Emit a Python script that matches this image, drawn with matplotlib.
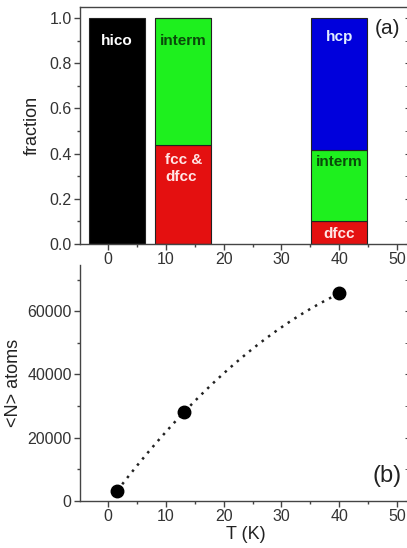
import numpy as np
import matplotlib
matplotlib.use("Agg")
import matplotlib.pyplot as plt
from matplotlib.ticker import MultipleLocator

plt.rcParams['font.family'] = ['Liberation Sans', 'DejaVu Sans']

# panel (a): structure fractions per temperature
temps = [1.5, 13, 40]
hico = [1.0, 0.0, 0.0]
fcc_dfcc = [0.0, 0.44, 0.0]
dfcc = [0.0, 0.0, 0.10]
interm = [0.0, 0.56, 0.315]
hcp = [0.0, 0.0, 0.585]

# panel (b): mean cluster size
T_pts = [1.6, 13.1, 40.0]
N_pts = [3300, 28000, 65600]

green = '#1ef01e'
red = '#e41010'
blue = '#0000dc'
tick_col = '#333333'
spine_col = '#444444'

fig = plt.figure(figsize=(4.07, 5.48), dpi=100)
ax1 = fig.add_axes([80/407, 1-244/548, 331/407, 237/548])
ax2 = fig.add_axes([80/407, 1-501/548, 331/407, 236/548])
xlim = (-4.85, 52.4)

w = 9.7
t = np.array(temps)
ax1.bar(t, hico, w, color='black', edgecolor='#222222', lw=0.8)
ax1.bar(t, fcc_dfcc, w, color=red, edgecolor='#222222', lw=0.8)
ax1.bar(t, dfcc, w, color=red, edgecolor='#222222', lw=0.8)
base = np.array(fcc_dfcc) + np.array(dfcc)
ax1.bar(t, interm, w, bottom=base, color=green, edgecolor='#222222', lw=0.8)
ax1.bar(t, hcp, w, bottom=base + np.array(interm), color=blue, edgecolor='#222222', lw=0.8)

fs = 11
ax1.text(1.5, 0.90, 'hico', color='white', fontsize=fs, fontweight='bold', ha='center', va='center')
ax1.text(13, 0.90, 'interm', color='#0a4a0a', fontsize=fs, fontweight='bold', ha='center', va='center')
ax1.text(9.9, 0.335, 'fcc &\ndfcc', color='#ffe6e6', fontsize=fs, fontweight='bold',
         ha='left', va='center', linespacing=1.25)
ax1.text(40, 0.915, 'hcp', color='#e0ecff', fontsize=fs, fontweight='bold', ha='center', va='center')
ax1.text(40, 0.363, 'interm', color='#0a4a0a', fontsize=fs, fontweight='bold', ha='center', va='center')
ax1.text(40, 0.046, 'dfcc', color='#ffe6e6', fontsize=fs, fontweight='bold', ha='center', va='center')
ax1.text(48.4, 0.956, '(a)', fontsize=15, ha='center', va='center', color='#222222')

ax1.set_ylim(0, 1.049)
ax1.set_ylabel('fraction', fontsize=13, color='#222222', labelpad=6)
ax1.set_yticks(np.arange(0, 1.01, 0.2))
ax1.set_yticklabels(['0.0', '0.2', '0.4', '0.6', '0.8', '1.0'])
ax1.yaxis.set_minor_locator(MultipleLocator(0.1))

# panel (b), dotted guide line from a quadratic fit of the points
c = np.polyfit(T_pts, N_pts, 2)
tt = np.linspace(T_pts[0], T_pts[-1], 200)
ax2.plot(tt, np.polyval(c, tt), color='#222222', lw=1.8, linestyle=(0, (1, 2.2)))
ax2.plot(T_pts, N_pts, 'o', color='black', ms=9)
ax2.text(48.3, 7900, '(b)', fontsize=17, ha='center', va='center', color='#222222')

ax2.set_ylim(0, 74600)
ax2.set_yticks([0, 20000, 40000, 60000])
ax2.yaxis.set_minor_locator(MultipleLocator(10000))
ax2.set_xlabel('T (K)', fontsize=13, color='#222222', labelpad=1)
ax2.set_ylabel('<N> atoms', fontsize=13, color='#222222', labelpad=4)
ax2.spines['top'].set_visible(False)

for ax in (ax1, ax2):
    ax.set_xlim(*xlim)
    ax.xaxis.set_major_locator(MultipleLocator(10))
    ax.xaxis.set_minor_locator(MultipleLocator(5))
    for s in ax.spines.values():
        s.set_color(spine_col)
        s.set_linewidth(1.0)
    ax.tick_params(axis='both', which='major', direction='out', length=4, width=1,
                   color=spine_col, labelcolor=tick_col, labelsize=11.5, pad=2)
    ax.tick_params(axis='both', which='minor', direction='out', length=2, width=1, color=spine_col)
    # right-hand ticks point inward
    sec = ax.secondary_yaxis('right')
    sec.set_yticks(ax.get_yticks())
    sec.yaxis.set_minor_locator(ax.yaxis.get_minor_locator())
    sec.tick_params(which='both', direction='in', color=spine_col, labelright=False, length=4)
    sec.spines['right'].set_color(spine_col)

fig.savefig('out.png', dpi=100)
